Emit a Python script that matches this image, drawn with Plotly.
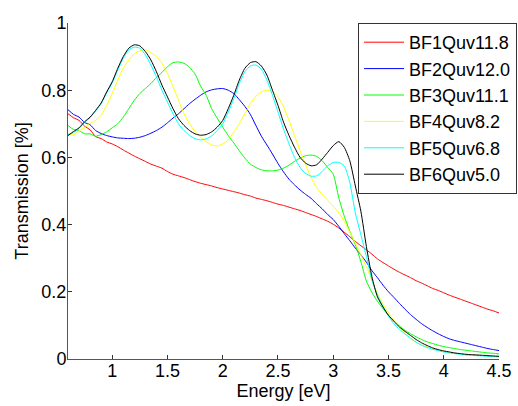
import plotly.graph_objects as go

# Photon energy grid [eV]
energy = [0.60, 0.65, 0.70, 0.75, 0.80, 0.85, 0.90, 0.95, 1.00, 1.05,
          1.10, 1.15, 1.20, 1.25, 1.30, 1.35, 1.40, 1.45, 1.50, 1.55,
          1.60, 1.65, 1.70, 1.75, 1.80, 1.85, 1.90, 1.95, 2.00, 2.05,
          2.10, 2.15, 2.20, 2.25, 2.30, 2.35, 2.40, 2.45, 2.50, 2.55,
          2.60, 2.65, 2.70, 2.75, 2.80, 2.85, 2.90, 2.95, 3.00, 3.05,
          3.10, 3.15, 3.20, 3.25, 3.30, 3.35, 3.40, 3.45, 3.50, 3.55,
          3.60, 3.65, 3.70, 3.75, 3.80, 3.85, 3.90, 3.95, 4.00, 4.05,
          4.10, 4.15, 4.20, 4.25, 4.30, 4.35, 4.40, 4.45, 4.50]

bf1 = [0.730, 0.718, 0.710, 0.693, 0.682, 0.662, 0.656, 0.646, 0.640, 0.632,
       0.622, 0.613, 0.604, 0.596, 0.588, 0.580, 0.574, 0.568, 0.558, 0.550,
       0.545, 0.540, 0.534, 0.528, 0.523, 0.519, 0.515, 0.510, 0.506, 0.502,
       0.498, 0.494, 0.489, 0.485, 0.479, 0.475, 0.471, 0.466, 0.461, 0.457,
       0.452, 0.447, 0.442, 0.436, 0.430, 0.424, 0.417, 0.410, 0.401, 0.390,
       0.377, 0.364, 0.350, 0.337, 0.325, 0.312, 0.298, 0.287, 0.277, 0.267,
       0.258, 0.250, 0.242, 0.233, 0.226, 0.218, 0.210, 0.204, 0.197, 0.190,
       0.184, 0.178, 0.172, 0.166, 0.160, 0.154, 0.148, 0.143, 0.137]

bf2 = [0.742, 0.728, 0.720, 0.704, 0.697, 0.680, 0.671, 0.665, 0.661, 0.658,
       0.657, 0.656, 0.657, 0.660, 0.665, 0.672, 0.680, 0.690, 0.703, 0.717,
       0.730, 0.745, 0.760, 0.773, 0.785, 0.795, 0.801, 0.804, 0.805, 0.800,
       0.790, 0.772, 0.752, 0.728, 0.695, 0.663, 0.637, 0.610, 0.582, 0.557,
       0.535, 0.518, 0.503, 0.490, 0.478, 0.462, 0.447, 0.430, 0.415, 0.395,
       0.373, 0.352, 0.330, 0.310, 0.288, 0.263, 0.242, 0.220, 0.200, 0.183,
       0.165, 0.148, 0.132, 0.118, 0.105, 0.094, 0.084, 0.075, 0.067, 0.060,
       0.055, 0.051, 0.047, 0.043, 0.039, 0.035, 0.031, 0.028, 0.025]

bf3 = [0.695, 0.683, 0.680, 0.670, 0.670, 0.663, 0.668, 0.676, 0.688, 0.700,
       0.720, 0.745, 0.770, 0.790, 0.805, 0.820, 0.838, 0.853, 0.870, 0.882,
       0.884, 0.880, 0.868, 0.848, 0.812, 0.785, 0.745, 0.717, 0.690, 0.665,
       0.643, 0.620, 0.598, 0.580, 0.570, 0.563, 0.560, 0.560, 0.562, 0.568,
       0.577, 0.588, 0.598, 0.605, 0.607, 0.603, 0.590, 0.570, 0.550, 0.480,
       0.425, 0.380, 0.340, 0.290, 0.232, 0.198, 0.172, 0.150, 0.130, 0.113,
       0.098, 0.085, 0.075, 0.066, 0.058, 0.051, 0.046, 0.041, 0.037, 0.034,
       0.031, 0.028, 0.026, 0.024, 0.022, 0.020, 0.018, 0.017, 0.015]

bf4 = [0.672, 0.666, 0.680, 0.688, 0.701, 0.710, 0.725, 0.755, 0.790, 0.830,
       0.865, 0.890, 0.908, 0.917, 0.920, 0.912, 0.900, 0.880, 0.850, 0.810,
       0.770, 0.730, 0.700, 0.677, 0.660, 0.647, 0.637, 0.634, 0.640, 0.652,
       0.675, 0.700, 0.730, 0.760, 0.782, 0.795, 0.800, 0.797, 0.780, 0.750,
       0.710, 0.665, 0.620, 0.578, 0.540, 0.510, 0.490, 0.472, 0.455, 0.435,
       0.410, 0.378, 0.345, 0.310, 0.275, 0.235, 0.195, 0.163, 0.138, 0.115,
       0.095, 0.075, 0.060, 0.050, 0.042, 0.036, 0.031, 0.027, 0.023, 0.020,
       0.017, 0.015, 0.013, 0.012, 0.011, 0.010, 0.009, 0.008, 0.007]

bf5 = [0.668, 0.674, 0.686, 0.704, 0.718, 0.738, 0.760, 0.792, 0.822, 0.860,
       0.895, 0.920, 0.928, 0.925, 0.905, 0.875, 0.840, 0.800, 0.765, 0.730,
       0.700, 0.680, 0.665, 0.656, 0.652, 0.655, 0.664, 0.680, 0.700, 0.735,
       0.775, 0.820, 0.855, 0.872, 0.875, 0.862, 0.830, 0.785, 0.735, 0.685,
       0.640, 0.600, 0.570, 0.552, 0.544, 0.545, 0.558, 0.575, 0.585, 0.585,
       0.575, 0.525, 0.435, 0.370, 0.305, 0.235, 0.190, 0.157, 0.127, 0.105,
       0.088, 0.074, 0.062, 0.050, 0.041, 0.034, 0.029, 0.025, 0.021, 0.018,
       0.016, 0.014, 0.012, 0.011, 0.010, 0.009, 0.008, 0.007, 0.006]

bf6 = [0.665, 0.677, 0.688, 0.706, 0.720, 0.740, 0.762, 0.795, 0.825, 0.865,
       0.900, 0.925, 0.935, 0.932, 0.915, 0.890, 0.855, 0.815, 0.780, 0.745,
       0.715, 0.695, 0.680, 0.670, 0.666, 0.668, 0.676, 0.690, 0.710, 0.745,
       0.785, 0.830, 0.865, 0.882, 0.885, 0.872, 0.845, 0.800, 0.755, 0.705,
       0.665, 0.630, 0.600, 0.583, 0.575, 0.578, 0.595, 0.615, 0.635, 0.647,
       0.630, 0.590, 0.515, 0.440, 0.335, 0.245, 0.185, 0.155, 0.130, 0.112,
       0.095, 0.082, 0.070, 0.058, 0.048, 0.040, 0.033, 0.028, 0.024, 0.021,
       0.018, 0.016, 0.014, 0.013, 0.012, 0.011, 0.010, 0.009, 0.008]

names = ["BF1Quv11.8", "BF2Quv12.0", "BF3Quv11.1",
         "BF4Quv8.2", "BF5Quv6.8", "BF6Quv5.0"]
colors = ["#ff0000", "#0000ff", "#00ff00", "#ffff00", "#00ffff", "#000000"]
series = [bf1, bf2, bf3, bf4, bf5, bf6]

x_ticks = [1, 1.5, 2, 2.5, 3, 3.5, 4, 4.5]
x_labels = ["1", "1.5", "2", "2.5", "3", "3.5", "4", "4.5"]
y_ticks = [0, 0.2, 0.4, 0.6, 0.8, 1]
y_labels = ["0", "0.2", "0.4", "0.6", "0.8", "1"]

FONT = "Liberation Sans, Arial, Helvetica, sans-serif"

fig = go.Figure()
for name, color, vals in zip(names, colors, series):
    fig.add_trace(go.Scatter(
        x=energy, y=vals, name=name, mode="lines",
        line=dict(color=color, width=1, shape="spline", smoothing=0.6),
    ))

axis_common = dict(
    showline=True, linecolor="#555555", linewidth=1,
    ticks="inside", ticklen=4, tickcolor="#333333", tickwidth=1,
    showgrid=False, zeroline=False, mirror=False, automargin=False,
    tickfont=dict(family=FONT, size=18, color="#000000"),
)

fig.update_layout(
    width=518, height=406,
    margin=dict(l=68, r=19, t=23, b=47, autoexpand=False),
    paper_bgcolor="white", plot_bgcolor="white",
    font=dict(family=FONT, size=18, color="#000000"),
    showlegend=True,
    legend=dict(
        x=0.673, xanchor="left", y=1.0, yanchor="top",
        bgcolor="white", bordercolor="#333333", borderwidth=1,
        font=dict(family=FONT, size=18, color="#000000"),
        tracegroupgap=0, itemwidth=40,
    ),
    xaxis=dict(
        range=[0.6, 4.5], tickvals=x_ticks, ticktext=x_labels,
        ticklabelstandoff=-5,
        title=dict(text="Energy [eV]", standoff=2,
                   font=dict(family=FONT, size=18)),
        **axis_common,
    ),
    yaxis=dict(
        range=[0, 1], tickvals=y_ticks, ticktext=y_labels,
        ticklabelstandoff=-3,
        title=dict(text="Transmission [%]", standoff=8,
                   font=dict(family=FONT, size=18)),
        **axis_common,
    ),
)

fig.write_html("out.html")
